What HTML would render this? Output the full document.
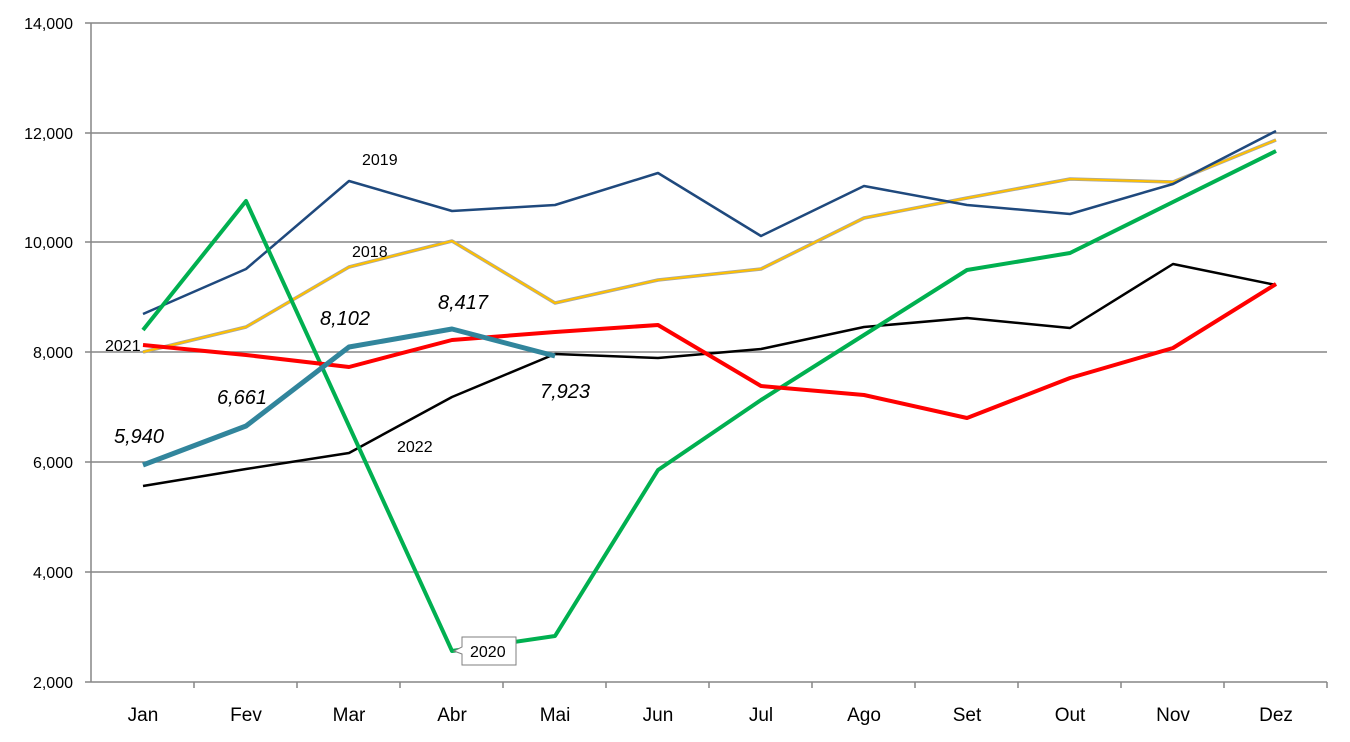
<!DOCTYPE html>
<html><head><meta charset="utf-8"><style>body{margin:0;background:#fff}svg{display:block}text{font-family:"Liberation Sans",sans-serif}</style></head><body>
<svg width="1350" height="742" viewBox="0 0 1350 742">
<g stroke="#868686" stroke-width="1.5">
<line x1="91" y1="23" x2="1327" y2="23"/><line x1="91" y1="133" x2="1327" y2="133"/><line x1="91" y1="242" x2="1327" y2="242"/><line x1="91" y1="352" x2="1327" y2="352"/><line x1="91" y1="462" x2="1327" y2="462"/><line x1="91" y1="572" x2="1327" y2="572"/><line x1="91" y1="682" x2="1327" y2="682"/>
<line x1="91" y1="23" x2="91" y2="682"/>
<line x1="85" y1="23" x2="91" y2="23"/><line x1="85" y1="133" x2="91" y2="133"/><line x1="85" y1="242" x2="91" y2="242"/><line x1="85" y1="352" x2="91" y2="352"/><line x1="85" y1="462" x2="91" y2="462"/><line x1="85" y1="572" x2="91" y2="572"/><line x1="85" y1="682" x2="91" y2="682"/>
<line x1="194" y1="682" x2="194" y2="688"/><line x1="297" y1="682" x2="297" y2="688"/><line x1="400" y1="682" x2="400" y2="688"/><line x1="503" y1="682" x2="503" y2="688"/><line x1="606" y1="682" x2="606" y2="688"/><line x1="709" y1="682" x2="709" y2="688"/><line x1="812" y1="682" x2="812" y2="688"/><line x1="915" y1="682" x2="915" y2="688"/><line x1="1018" y1="682" x2="1018" y2="688"/><line x1="1121" y1="682" x2="1121" y2="688"/><line x1="1224" y1="682" x2="1224" y2="688"/><line x1="1327" y1="682" x2="1327" y2="688"/>
</g>
<g font-size="16" text-anchor="end" fill="#000">
<text x="73" y="29">14,000</text><text x="73" y="139">12,000</text><text x="73" y="248">10,000</text><text x="73" y="358">8,000</text><text x="73" y="468">6,000</text><text x="73" y="578">4,000</text><text x="73" y="688">2,000</text>
</g>
<g font-size="19" text-anchor="middle" fill="#000">
<text x="143" y="721">Jan</text><text x="246" y="721">Fev</text><text x="349" y="721">Mar</text><text x="452" y="721">Abr</text><text x="555" y="721">Mai</text><text x="658" y="721">Jun</text><text x="761" y="721">Jul</text><text x="864" y="721">Ago</text><text x="967" y="721">Set</text><text x="1070" y="721">Out</text><text x="1173" y="721">Nov</text><text x="1276" y="721">Dez</text>
</g>
<g fill="none" stroke-linejoin="round">
<polyline stroke="#A6A6A6" stroke-width="3.5" points="143,352 246,327 349,267 452,241 555,303 658,280 761,269 864,218 967,198 1070,179 1173,182 1276,140"/>
<polyline stroke="#FFC000" stroke-width="2" points="143,352 246,327 349,267 452,241 555,303 658,280 761,269 864,218 967,198 1070,179 1173,182 1276,140"/>
<polyline stroke="#1F497D" stroke-width="2.5" points="143,314 246,269 349,181 452,211 555,205 658,173 761,236 864,186 967,205 1070,214 1173,184 1276,131"/>
<polyline stroke="#000" stroke-width="2.5" points="143,486 246,469 349,453 452,397 555,354 658,358 761,349 864,327 967,318 1070,328 1173,264 1276,285"/>
<polyline stroke="#00B050" stroke-width="4" points="143,330 246,201 349,426 452,651 555,636 658,470 761,400 864,335 967,270 1070,253 1173,202 1276,151"/>
<polyline stroke="#FF0000" stroke-width="4" points="143,345 246,355 349,367 452,340 555,332 658,325 761,386 864,395 967,418 1070,378 1173,348 1276,284"/>
<polyline stroke="#31859C" stroke-width="5" points="143,465 246,426 349,347 452,329 555,356"/>
</g>
<g font-size="16" fill="#000">
<text x="362" y="165">2019</text><text x="352" y="257">2018</text><text x="105" y="351">2021</text><text x="397" y="452">2022</text>
</g>
<path d="M462,637 H516 V665 H462 V654 L454,651 L462,647 Z" fill="#fff" stroke="#7f7f7f"/>
<text x="470" y="657" font-size="16">2020</text>
<g font-size="20" font-style="italic" fill="#000">
<text x="114" y="443">5,940</text><text x="217" y="404">6,661</text><text x="320" y="325">8,102</text><text x="438" y="309">8,417</text><text x="540" y="398">7,923</text>
</g>
</svg>
</body></html>
